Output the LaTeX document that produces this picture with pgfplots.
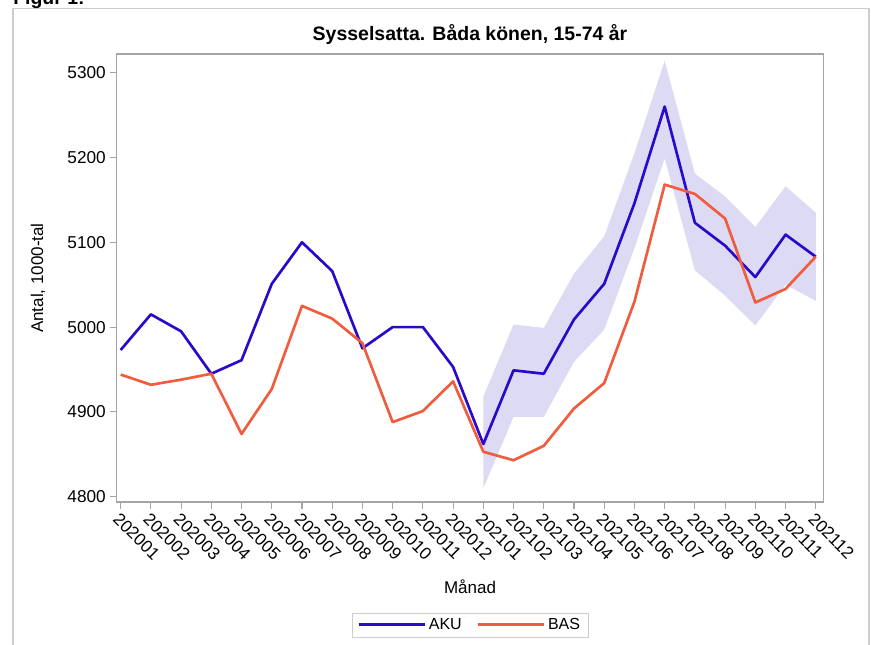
\documentclass[border=0pt]{standalone}
\usepackage{pgfplots}
\pgfplotsset{compat=1.18}
\usepackage{fontspec}
\setmainfont{Liberation Sans}
\definecolor{aku}{RGB}{40,10,200}
\definecolor{bas}{RGB}{240,92,62}
\definecolor{band}{RGB}{221,218,244}
\definecolor{axgray}{RGB}{165,165,165}
\definecolor{framegray}{RGB}{205,205,205}
\begin{document}
\begin{tikzpicture}
\clip (0,0) rectangle (653.25pt,-483pt);
\begin{scope}[x=0.75pt,y=-0.75pt]
\draw[framegray, line width=1pt] (13,8.5) rectangle (869,700);
\node[anchor=base west, font=\fontsize{14.6pt}{16pt}\selectfont\bfseries, inner sep=0pt] at (13,4) {Figur 1:};
\end{scope}
\begin{axis}[
  at={(87.5pt,-40.5pt)}, anchor=north west,
  scale only axis, width=530pt, height=336pt,
  xmin=-0.132, xmax=23.25, ymin=4793.75, ymax=5322,
  axis line style={axgray, line width=0.8pt},
  tick style={axgray, line width=0.8pt},
  major tick length=5pt,
  tick align=outside, xtick pos=bottom, ytick pos=left,
  xtick={0,...,23},
  xticklabels={202001,202002,202003,202004,202005,202006,202007,202008,202009,202010,202011,202012,202101,202102,202103,202104,202105,202106,202107,202108,202109,202110,202111,202112},
  ytick={4800,4900,5000,5100,5200,5300},
  /pgf/number format/assume math mode=true,
  /pgf/number format/set thousands separator={},
  tick label style={font=\fontsize{12.9pt}{14pt}\selectfont, text=black},
  x tick label style={rotate=-45, anchor=north west, inner sep=1.5pt},
  y tick label style={inner sep=3pt},
  title={Sysselsatta. Båda könen, 15-74 år},
  title style={at={(axis description cs:0.5,1)}, anchor=base, yshift=4.2pt, font=\fontsize{14.6pt}{16pt}\selectfont\bfseries},
  xlabel={Månad},
  xlabel style={at={(axis description cs:0.5,0)}, anchor=base, yshift=-68.25pt, font=\fontsize{12.75pt}{14pt}\selectfont},
  ylabel={Antal,\ 1000-tal},
  ylabel style={at={(axis description cs:-0.1114,0.5)}, anchor=center, font=\fontsize{12.75pt}{14pt}\selectfont},
  legend columns=2,
  legend style={at={(0.5,0)}, anchor=north, yshift=-83pt, draw=framegray,
    font=\fontsize{12pt}{14pt}\selectfont, inner xsep=4pt, inner ysep=2pt,
    /tikz/every even column/.append style={column sep=9pt}},
  legend image code/.code={\draw[#1] (0pt,0pt) -- (49.5pt,0pt);},
  legend image post style={line width=2.2pt},
]
\addplot[fill=band, draw=none, forget plot] coordinates {
(12,4918) (13,5003) (14,4999) (15,5063) (16,5107) (17,5205) (18,5314) (19,5181) (20,5154) (21,5118) (22,5166) (23,5135)
(23,5031) (22,5050) (21,5002) (20,5037) (19,5067) (18,5199) (17,5093) (16,4997) (15,4959) (14,4894) (13,4894) (12,4810)
} -- cycle;
\addplot[aku, line width=2pt, line join=round] coordinates {
(0,4973) (1,5015) (2,4995) (3,4945) (4,4961) (5,5051) (6,5100) (7,5066) (8,4975) (9,5000) (10,5000) (11,4953)
(12,4862) (13,4949) (14,4945) (15,5009) (16,5051) (17,5146) (18,5260) (19,5123) (20,5096) (21,5059) (22,5109) (23,5083)
};
\addlegendentry{AKU}
\addplot[bas, line width=2pt, line join=round] coordinates {
(0,4944) (1,4932) (2,4938) (3,4945) (4,4874) (5,4927) (6,5025) (7,5010) (8,4981) (9,4888) (10,4901) (11,4936)
(12,4853) (13,4843) (14,4860) (15,4904) (16,4934) (17,5030) (18,5168) (19,5157) (20,5128) (21,5029) (22,5045) (23,5083)
};
\addlegendentry{BAS}
\end{axis}
\end{tikzpicture}
\end{document}
